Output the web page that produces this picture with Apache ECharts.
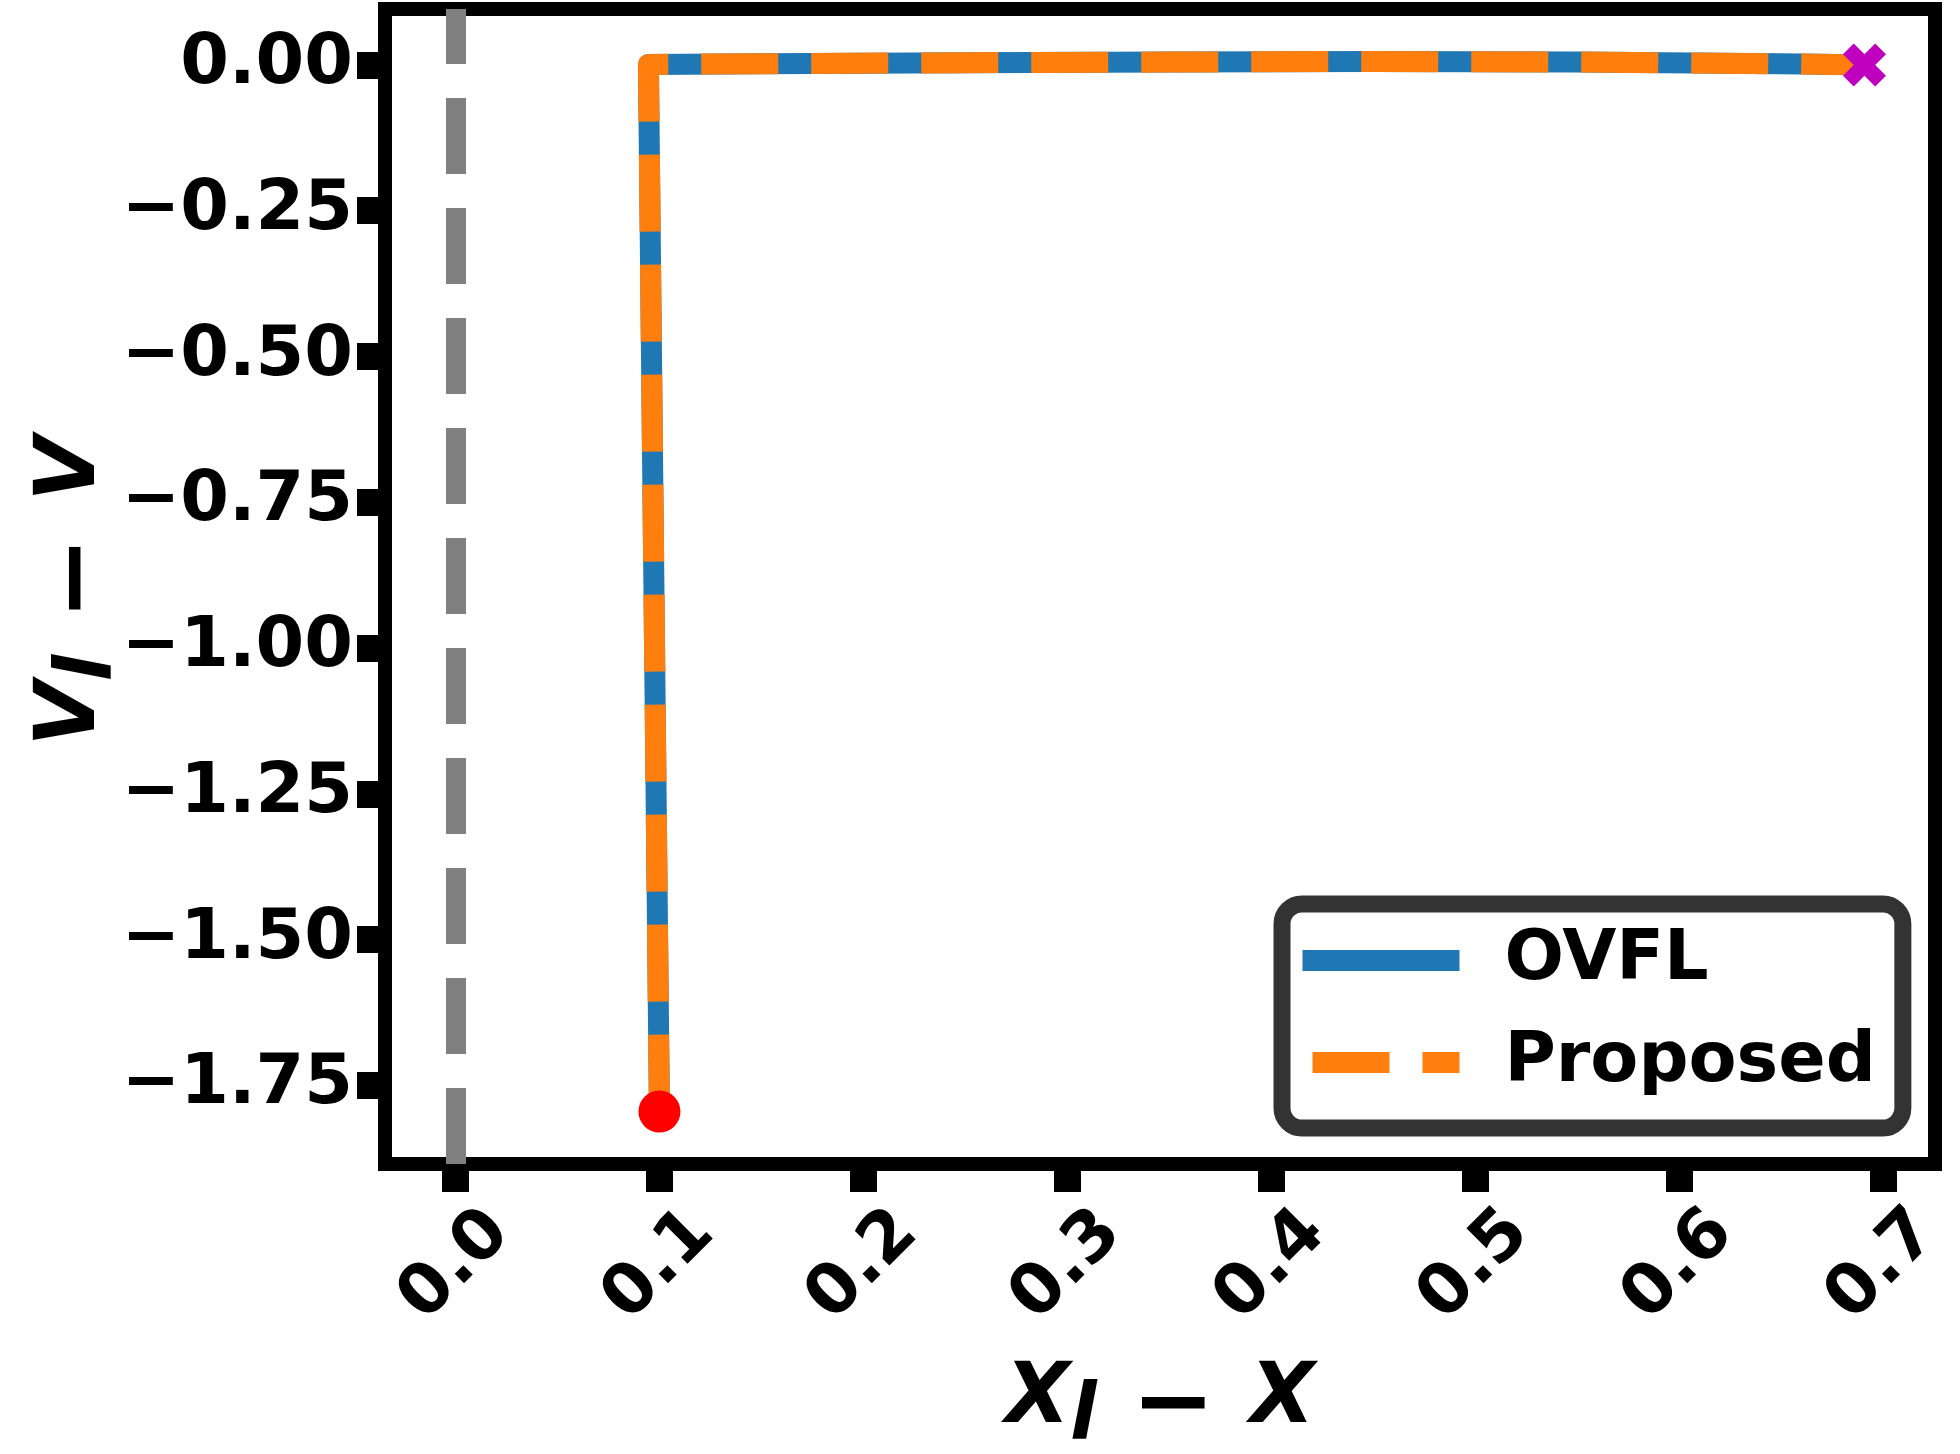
<!DOCTYPE html>
<html>
<head>
<meta charset="utf-8">
<script src="https://cdn.jsdelivr.net/npm/echarts@6/dist/echarts.min.js"></script>
<style>html,body{margin:0;padding:0;background:#fff;}#c{width:1960px;height:1454px;}</style>
</head>
<body>
<div id="c"></div>
<script>
const xTicks = [0, 0.1, 0.2, 0.3, 0.4, 0.5, 0.6, 0.7];
const yTicks = [-1.75, -1.5, -1.25, -1.0, -0.75, -0.5, -0.25, 0];
const trajX = [0.1, 0.0946, 0.15, 0.25, 0.35, 0.45, 0.55, 0.65, 0.691];
const ovflY = [-1.795, 0.001, 0.002, 0.004, 0.005, 0.006, 0.005, 0.002, 0.0];
const proposedY = [-1.795, 0.001, 0.002, 0.004, 0.005, 0.006, 0.005, 0.002, 0.0];
const startPoint = [0.1, -1.795];
const endPoint = [0.691, 0.0];
const guideX = 0;
const seriesNames = ['OVFL', 'Proposed'];

const FONT = 'DejaVu Sans';
const pairs = (xs, ys) => xs.map((x, i) => [x, ys[i]]);
const fmtY = v => (v < 0 ? '\u2212' : '') + Math.abs(v).toFixed(2);
const fmtX = v => Math.abs(v).toFixed(1);
const xPath = 'path://M25,0 L50,25 L75,0 L100,25 L75,50 L100,75 L75,100 L50,75 L25,100 L0,75 L25,50 L0,25 Z';

const nameRich = {
  a: {fontFamily: FONT, fontStyle: 'italic', fontWeight: 'bold', fontSize: 84, lineHeight: 84, verticalAlign: 'top', color: '#000'},
  s: {fontFamily: FONT, fontStyle: 'italic', fontWeight: 'bold', fontSize: 78, lineHeight: 84, padding: [22, 0, 0, 0], verticalAlign: 'top', color: '#000'},
  m: {fontFamily: FONT, fontWeight: 'bold', fontSize: 100, lineHeight: 84, verticalAlign: 'top', color: '#000'}
};

const chart = echarts.init(document.getElementById('c'), null, {renderer: 'canvas'});
chart.setOption({
  backgroundColor: '#fff',
  animation: false,
  grid: {left: 385, right: 25, top: 9, bottom: 290, containLabel: false, outerBoundsMode: 'none',
    show: true, borderColor: '#000', borderWidth: 14, backgroundColor: 'transparent'},
  xAxis: {
    type: 'value', min: -0.0346, max: 0.7256,
    axisLine: {show: false, onZero: false},
    splitLine: {show: false},
    axisTick: {show: true, customValues: xTicks, length: 28, lineStyle: {color: '#000', width: 27}},
    axisLabel: {customValues: xTicks, formatter: fmtX, rotate: 45, align: 'center', verticalAlign: 'middle', margin: 102,
      fontFamily: FONT, fontWeight: 'bold', fontSize: 70, color: '#000'},
    name: '{a|X}{s|l}{m| \u2212 }{a|X}', nameLocation: 'middle', nameGap: 194,
    nameTextStyle: {rich: nameRich}
  },
  yAxis: {
    type: 'value', min: -1.885, max: 0.096,
    axisLine: {show: false, onZero: false},
    splitLine: {show: false},
    axisTick: {show: true, customValues: yTicks, length: 28, lineStyle: {color: '#000', width: 27}},
    axisLabel: {customValues: yTicks, formatter: fmtY, margin: 32,
      fontFamily: FONT, fontWeight: 'bold', fontSize: 70, color: '#000'},
    name: '{a|V}{s|l}{m| \u2212 }{a|V}', nameLocation: 'middle', nameGap: 271, nameRotate: 90, nameMoveOverlap: false,
    nameTextStyle: {rich: nameRich, padding: [0, 10, 0, 0]}
  },
  legend: {
    orient: 'vertical', left: 1282, top: 904,
    padding: [9, 27, 18, 10],
    itemWidth: 157, itemHeight: 21, itemGap: 7,
    borderColor: '#333', borderWidth: 17, borderRadius: 20, backgroundColor: '#fff',
    itemStyle: {color: 'transparent', borderWidth: 0},
    lineStyle: {width: 21, cap: 'butt'},
    textStyle: {fontFamily: FONT, fontWeight: 'bold', fontSize: 70, color: '#000', lineHeight: 68, padding: [27, 0, 0, 40]},
    data: [{name: seriesNames[0]}, {name: seriesNames[1], lineStyle: {dashOffset: -10}}]
  },
  series: [
    {
      type: 'line', name: 'guide', data: [], silent: true,
      markLine: {silent: true, symbol: ['none', 'none'], label: {show: false},
        lineStyle: {color: '#808080', width: 20, type: [76, 34], cap: 'butt'},
        data: [{xAxis: guideX}]}
    },
    {
      type: 'line', name: seriesNames[0], data: pairs(trajX, ovflY), symbol: 'none', z: 2,
      lineStyle: {color: '#1f77b4', width: 21, join: 'round', cap: 'square'},
      itemStyle: {color: '#1f77b4'}
    },
    {
      type: 'line', name: seriesNames[1], data: pairs(trajX, proposedY), symbol: 'none', z: 3,
      lineStyle: {color: '#ff7f0e', width: 21, type: [77, 33], join: 'round', cap: 'butt'},
      itemStyle: {color: '#ff7f0e'}
    },
    {
      type: 'scatter', name: 'start', data: [startPoint], symbol: 'circle', symbolSize: 42, z: 4,
      itemStyle: {color: '#ff0000', opacity: 1}
    },
    {
      type: 'scatter', name: 'end', data: [endPoint], symbol: xPath, symbolSize: 43, z: 4,
      itemStyle: {color: '#bf00bf', opacity: 1}
    }
  ]
});
</script>
</body>
</html>
